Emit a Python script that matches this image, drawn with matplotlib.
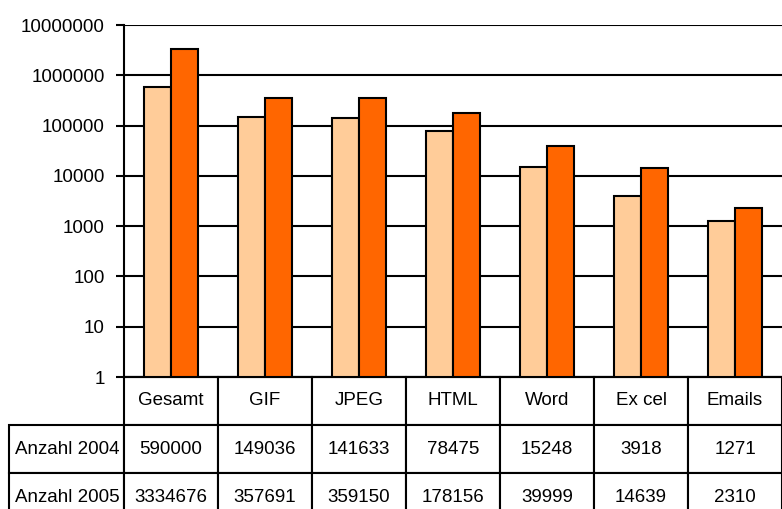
import matplotlib
matplotlib.use("Agg")
import matplotlib.pyplot as plt
from matplotlib.table import Table
import numpy as np

# data
categories = ["Gesamt", "GIF", "JPEG", "HTML", "Word", "Ex cel", "Emails"]
anzahl_2004 = [590000, 149036, 141633, 78475, 15248, 3918, 1271]
anzahl_2005 = [3334676, 357691, 359150, 178156, 39999, 14639, 2310]
row_labels = ["Anzahl 2004", "Anzahl 2005"]
ytick_vals = [1, 10, 100, 1000, 10000, 100000, 1000000, 10000000]

plt.rcParams['font.family'] = ['Liberation Sans', 'DejaVu Sans']
fs = 13.5

fig = plt.figure(figsize=(7.82, 5.09), dpi=100)
ax = fig.add_axes([124 / 782, 1 - 377 / 509, 658 / 782, 352 / 509])

x = np.arange(len(categories))
w = 0.287
ax.bar(x - w / 2, anzahl_2004, w, bottom=1, color="#FFCC99", edgecolor="black", linewidth=1.5, zorder=3)
ax.bar(x + w / 2, anzahl_2005, w, bottom=1, color="#FF6600", edgecolor="black", linewidth=1.5, zorder=3)

ax.set_yscale("log")
ax.set_ylim(1, 1e7)
ax.set_xlim(-0.5, len(categories) - 0.5)
ax.set_yticks(ytick_vals)
ax.set_yticklabels([str(v) for v in ytick_vals], fontsize=fs)
ax.yaxis.set_minor_locator(matplotlib.ticker.NullLocator())
ax.tick_params(axis="y", length=6, width=1.5, pad=8)
ax.set_xticks([])
ax.grid(axis="y", color="black", linewidth=1.5, zorder=1)
for s in ["top", "right"]:
    ax.spines[s].set_visible(False)
for s in ["left", "bottom"]:
    ax.spines[s].set_linewidth(1.5)

# data table below the plot (sizes as axes fractions)
col_w = 94 / 658
lab_w = 115 / 658
row_h = 48 / 352
tab = Table(ax, bbox=[0, -3 * row_h, 1, 3 * row_h])
for j, cat in enumerate(categories):
    tab.add_cell(0, j, col_w, row_h, text=cat, loc="center")
for i, vals in enumerate([anzahl_2004, anzahl_2005]):
    c = tab.add_cell(i + 1, -1, lab_w, row_h, text=row_labels[i], loc="left")
    c.PAD = 0.05
    for j, v in enumerate(vals):
        tab.add_cell(i + 1, j, col_w, row_h, text=str(v), loc="center")
tab.auto_set_font_size(False)
tab.set_fontsize(fs)
ax.add_table(tab)
tab.set_clip_on(False)
for cell in tab.get_celld().values():
    cell.set_linewidth(1.5)
    cell.set_clip_on(False)
    cell.get_text().set_clip_on(False)

fig.savefig("out.png", dpi=100)
